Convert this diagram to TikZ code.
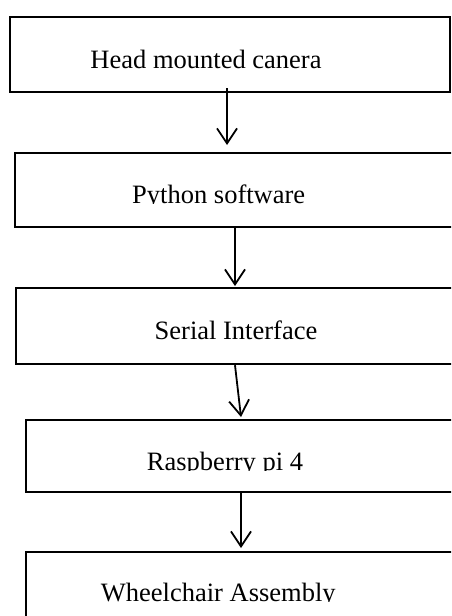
\documentclass[tikz,border=0pt]{standalone}
\usepackage{fontspec}
\setmainfont{Liberation Serif}
\usetikzlibrary{arrows.meta}
\begin{document}
\begin{tikzpicture}[x=1pt,y=-1pt,
  box/.style={draw=black,line width=2.2pt,rectangle,inner sep=0pt,anchor=north west},
  lbl/.style={anchor=base,inner sep=0pt,font=\fontsize{26.5}{30}\selectfont},
  flow/.style={line width=1.8pt,-{Straight Barb[length=15pt,width=20pt,line width=1.8pt]}}]
\useasboundingbox (0,0) rectangle (451,616);
\clip (0,0) rectangle (451,616);
\node[box,minimum width=440pt,minimum height=75pt] (b1) at (9,16) {};
\node[box,minimum width=470pt,minimum height=74pt] (b2) at (13.5,152) {};
\node[box,minimum width=470pt,minimum height=76pt] (b3) at (15,287) {};
\node[box,minimum width=460pt,minimum height=72pt] (b4) at (25,419) {};
\node[box,minimum width=460pt,minimum height=100pt] (b5) at (25,551) {};
\node[lbl] (t1) at (206,68) {Head mounted canera};
\begin{scope}
\clip (0,160) rectangle (451,203.5);
\node[lbl] (t2) at (218.7,203.5) {Python software};
\end{scope}
\node[lbl] (t3) at (236,339) {Serial Interface};
\begin{scope}
\clip (0,425) rectangle (451,470.5);
\node[lbl] (t4) at (225,470.5) {Raspberry pi 4};
\end{scope}
\begin{scope}
\clip (0,560) rectangle (451,601.5);
\node[lbl] (t5) at (218.3,601.5) {Wheelchair Assembly};
\end{scope}
\draw[flow] ([xshift=218pt,yshift=5pt]b1.south west) -- ([xshift=213.5pt,yshift=7pt]b2.north west);
\draw[flow] ([xshift=221.5pt]b2.south west) -- ([xshift=220pt,yshift=1pt]b3.north west);
\draw[flow] ([xshift=220pt]b3.south west) -- ([xshift=216pt,yshift=2pt]b4.north west);
\draw[flow] ([xshift=216pt]b4.south west) -- ([xshift=216pt,yshift=3pt]b5.north west);
\end{tikzpicture}
\end{document}
